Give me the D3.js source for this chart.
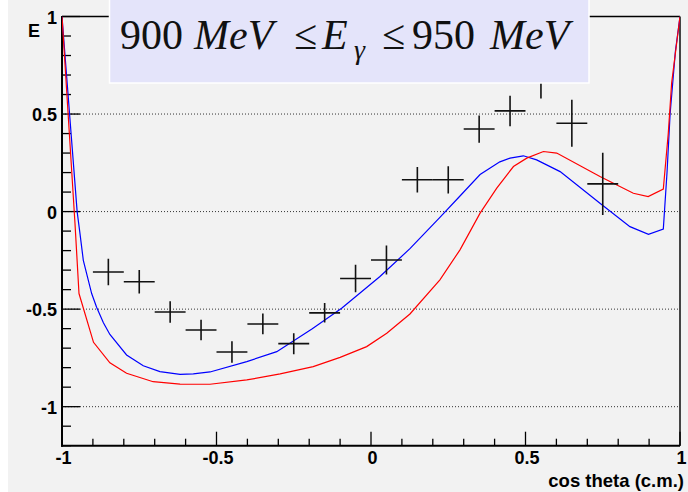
<!DOCTYPE html>
<html>
<head>
<meta charset="utf-8">
<script src="https://cdn.jsdelivr.net/npm/d3@7"></script>
<style>
html,body{margin:0;padding:0;background:#ffffff;}
svg{display:block;}
</style>
</head>
<body>
<div id="chart"></div>
<script>
// ---- data ----
const pointX = [-0.85,-0.75,-0.65,-0.55,-0.45,-0.35,-0.25,-0.15,-0.05,0.05,0.15,0.25,0.35,0.45,0.55,0.65,0.75];
const pointE = [-0.31,-0.36,-0.515,-0.607,-0.72,-0.576,-0.677,-0.519,-0.343,-0.248,0.163,0.163,0.423,0.516,0.69,0.453,0.142];
const pointErr = [0.068,0.06,0.055,0.053,0.055,0.053,0.054,0.05,0.07,0.074,0.065,0.07,0.07,0.078,0.11,0.12,0.16];
const pointHalfWidth = 0.05;

const blueX = [-1,-0.951,-0.942,-0.931,-0.904,-0.888,-0.866,-0.845,-0.791,-0.737,-0.683,-0.618,-0.575,-0.521,-0.402,-0.305,-0.19,-0.095,0.029,0.126,0.223,0.288,0.353,0.417,0.45,0.493,0.536,0.612,0.741,0.838,0.898,0.946,0.958,0.968,0.985,1.0];
const blueE = [1.0,0.0,-0.11,-0.25,-0.42,-0.49,-0.57,-0.63,-0.735,-0.79,-0.82,-0.834,-0.832,-0.822,-0.769,-0.718,-0.6,-0.495,-0.333,-0.19,-0.03,0.08,0.19,0.255,0.274,0.286,0.265,0.205,0.043,-0.077,-0.117,-0.09,0.2,0.5,0.82,1.0];

const redX = [-1,-0.958,-0.945,-0.898,-0.845,-0.791,-0.705,-0.618,-0.521,-0.402,-0.294,-0.187,-0.1,-0.014,0.051,0.126,0.223,0.288,0.353,0.407,0.461,0.504,0.558,0.601,0.741,0.849,0.897,0.946,0.962,0.973,1.0];
const redE = [1.0,-0.06,-0.42,-0.67,-0.775,-0.829,-0.872,-0.884,-0.885,-0.863,-0.832,-0.795,-0.747,-0.692,-0.624,-0.525,-0.35,-0.196,-0.008,0.12,0.231,0.274,0.308,0.3,0.18,0.094,0.077,0.115,0.4,0.66,1.0];

const xMajor = [-1,-0.5,0,0.5,1];
const xMajorLabels = ["-1","-0.5","0","0.5","1"];
const yMajor = [-1,-0.5,0,0.5,1];
const yMajorLabels = ["-1","-0.5","0","0.5","1"];
const gridY = [-1,-0.5,0,0.5];
const xTitle = "cos theta (c.m.)";
const yTitle = "E";

// ---- layout ----
const W = 688, H = 492;
const L = 62, R = 680, T = 16.5, B = 445.7;

const svg = d3.select("#chart").append("svg").attr("width", W).attr("height", H);
svg.append("rect").attr("x",0).attr("y",0).attr("width",W).attr("height",H).attr("fill","#ffffff");
svg.append("rect").attr("x",8).attr("y",0).attr("width",W-8).attr("height",H).attr("fill","#f2f2f2");

const x = d3.scaleLinear().domain([-1,1]).range([L,R]);
const y = d3.scaleLinear().domain([-1.2,1]).range([B,T]);

svg.append("defs").append("clipPath").attr("id","clip")
  .append("rect").attr("x",L).attr("y",T).attr("width",R-L).attr("height",B-T);

// grid
svg.append("g").selectAll("line").data(gridY).join("line")
  .attr("x1",L).attr("x2",R).attr("y1",d=>y(d)).attr("y2",d=>y(d))
  .attr("stroke","#333").attr("stroke-width",1).attr("stroke-dasharray","1,2");

// frame: top and right
svg.append("line").attr("x1",L).attr("x2",R).attr("y1",T).attr("y2",T).attr("stroke","#000").attr("stroke-width",1.5);
svg.append("line").attr("x1",R).attr("x2",R).attr("y1",T).attr("y2",B).attr("stroke","#444").attr("stroke-width",2);

// y ticks
const yMinor = d3.range(-12,11).map(i=>i/10);
svg.append("g").selectAll("line").data(yMinor).join("line")
  .attr("x1",L).attr("x2",d=>L + (Math.abs(d*2 - Math.round(d*2))<1e-6 ? 18 : 9))
  .attr("y1",d=>y(d)).attr("y2",d=>y(d))
  .attr("stroke","#000").attr("stroke-width",1.3);
// x ticks
const xMinor = d3.range(-10,11).map(i=>i/10);
svg.append("g").selectAll("line").data(xMinor).join("line")
  .attr("x1",d=>x(d)).attr("x2",d=>x(d))
  .attr("y1",B).attr("y2",d=>B - (Math.abs(d*2 - Math.round(d*2))<1e-6 ? 14 : 7))
  .attr("stroke","#000").attr("stroke-width",1.3);

// axes lines
svg.append("line").attr("x1",L).attr("x2",L).attr("y1",T-0.5).attr("y2",B+1).attr("stroke","#000").attr("stroke-width",2);
svg.append("line").attr("x1",L-1).attr("x2",R).attr("y1",B).attr("y2",B).attr("stroke","#000").attr("stroke-width",2);

// tick labels
const lblFont = "'Liberation Sans', Arial, Helvetica, sans-serif";
svg.append("g").selectAll("text").data(yMajor).join("text")
  .attr("x",57).attr("y",d=>y(d)+7).attr("text-anchor","end")
  .attr("font-family",lblFont).attr("font-weight","bold").attr("font-size",18)
  .text((d,i)=>yMajorLabels[i]);
svg.append("g").selectAll("text").data(xMajor).join("text")
  .attr("x",d=>x(d)+1.5).attr("y",464).attr("text-anchor","middle")
  .attr("font-family",lblFont).attr("font-weight","bold").attr("font-size",18)
  .text((d,i)=>xMajorLabels[i]);
svg.append("text").attr("x",684).attr("y",487).attr("text-anchor","end")
  .attr("font-family",lblFont).attr("font-weight","bold").attr("font-size",18.5).text(xTitle);
svg.append("text").attr("x",40).attr("y",37).attr("text-anchor","end")
  .attr("font-family",lblFont).attr("font-weight","bold").attr("font-size",18).text(yTitle);

// curves
const plot = svg.append("g").attr("clip-path","url(#clip)");
const line = d3.line().x(d=>x(d[0])).y(d=>y(d[1]));
plot.append("path").datum(blueX.map((v,i)=>[v,blueE[i]]))
  .attr("d",line).attr("fill","none").attr("stroke","#0000ff").attr("stroke-width",1.2);
plot.append("path").datum(redX.map((v,i)=>[v,redE[i]]))
  .attr("d",line).attr("fill","none").attr("stroke","#ff0000").attr("stroke-width",1.2);

// data points
const pts = pointX.map((v,i)=>({x:v,e:pointE[i],err:pointErr[i]}));
const pg = plot.append("g").attr("stroke","#111").attr("stroke-width",1.6);
pg.selectAll("line.h").data(pts).join("line").attr("class","h")
  .attr("x1",d=>x(d.x-pointHalfWidth)).attr("x2",d=>x(d.x+pointHalfWidth))
  .attr("y1",d=>y(d.e)).attr("y2",d=>y(d.e));
pg.selectAll("line.v").data(pts).join("line").attr("class","v")
  .attr("x1",d=>x(d.x)).attr("x2",d=>x(d.x))
  .attr("y1",d=>y(d.e-d.err)).attr("y2",d=>y(d.e+d.err));

// title box
svg.append("rect").attr("x",109.5).attr("y",-2).attr("width",479.5).attr("height",85)
  .attr("fill","#e4e4fa").attr("stroke","#ffffff").attr("stroke-width",1.5);
const serif = "'Liberation Serif', 'Times New Roman', Times, serif";
const tg = svg.append("g").attr("font-family",serif).attr("font-size",42).attr("fill","#111");
tg.append("text").attr("x",120).attr("y",48.5).text("900");
tg.append("text").attr("x",194).attr("y",48.5).attr("font-style","italic").text("MeV");
tg.append("text").attr("x",294).attr("y",48.5).text("\u2264");
tg.append("text").attr("x",322).attr("y",48.5).attr("font-style","italic").text("E");
tg.append("text").attr("x",354).attr("y",59).attr("font-style","italic").attr("font-size",28).text("\u03b3");
tg.append("text").attr("x",382).attr("y",48.5).text("\u2264");
tg.append("text").attr("x",412).attr("y",48.5).text("950");
tg.append("text").attr("x",490).attr("y",48.5).attr("font-style","italic").text("MeV");
</script>
</body>
</html>
